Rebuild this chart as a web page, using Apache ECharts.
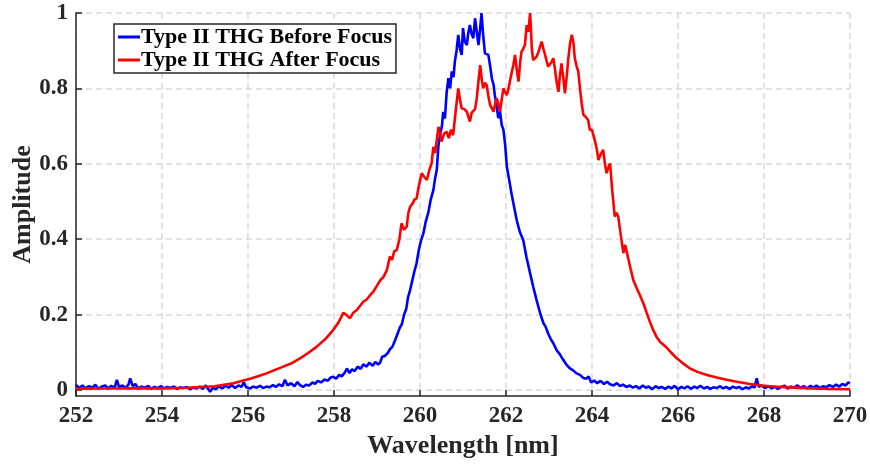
<!DOCTYPE html>
<html>
<head>
<meta charset="utf-8">
<script src="https://cdn.jsdelivr.net/npm/echarts@6/dist/echarts.min.js"></script>
<style>html,body{margin:0;padding:0;background:#fff}#c{width:870px;height:466px}</style>
</head>
<body>
<div id="c"></div>
<script>
const seriesNames = ['Type II THG Before Focus', 'Type II THG After Focus'];
const xTicks = [252, 254, 256, 258, 260, 262, 264, 266, 268, 270];
const yTicks = [0, 0.2, 0.4, 0.6, 0.8, 1];

// [wavelength nm, amplitude]
const beforeFocus = [
[252.00,0.013],[252.08,0.005],[252.15,0.012],[252.22,0.004],[252.30,0.010],[252.38,0.006],[252.45,0.014],[252.52,0.003],[252.60,0.009],[252.68,0.012],[252.75,0.004],[252.82,0.011],[252.90,0.006],[252.95,0.027],[253.00,0.008],[253.08,0.012],[253.15,0.005],[253.22,0.014],[253.26,0.031],[253.32,0.010],[253.38,0.016],[253.45,0.004],[253.52,0.009],[253.60,0.006],[253.68,0.011],[253.75,0.003],[253.82,0.008],[253.90,0.005],[253.98,0.010],[254.05,0.004],[254.12,0.008],[254.20,0.006],[254.28,0.009],[254.35,0.003],[254.42,0.007],[254.50,0.005],[254.58,0.008],[254.65,0.002],[254.72,0.006],[254.80,0.004],[254.88,0.009],[254.95,0.003],[255.02,0.012],[255.08,0.002],[255.12,-0.005],[255.18,0.006],[255.25,0.002],[255.32,0.010],[255.40,0.004],[255.48,0.011],[255.55,0.006],[255.62,0.013],[255.70,0.005],[255.78,0.012],[255.85,0.008],[255.90,0.020],[255.96,0.007],[256.05,0.004],[256.12,0.009],[256.20,0.006],[256.28,0.011],[256.35,0.005],[256.43,0.009],[256.50,0.007],[256.58,0.013],[256.65,0.008],[256.72,0.015],[256.80,0.010],[256.86,0.027],[256.92,0.012],[257.00,0.018],[257.08,0.010],[257.15,0.021],[257.21,0.013],[257.28,0.008],[257.35,0.014],[257.42,0.012],[257.50,0.020],[257.56,0.016],[257.62,0.024],[257.70,0.020],[257.78,0.028],[257.85,0.024],[257.92,0.033],[257.98,0.035],[258.05,0.030],[258.12,0.040],[258.18,0.036],[258.25,0.046],[258.30,0.057],[258.36,0.045],[258.42,0.055],[258.48,0.050],[258.55,0.062],[258.62,0.056],[258.68,0.068],[258.76,0.062],[258.82,0.072],[258.90,0.064],[258.96,0.074],[259.02,0.068],[259.07,0.072],[259.12,0.088],[259.18,0.090],[259.25,0.098],[259.30,0.108],[259.36,0.115],[259.42,0.132],[259.48,0.150],[259.53,0.165],[259.58,0.175],[259.63,0.200],[259.68,0.215],[259.72,0.245],[259.77,0.265],[259.82,0.290],[259.87,0.315],[259.92,0.336],[259.97,0.370],[260.02,0.395],[260.08,0.416],[260.13,0.445],[260.19,0.469],[260.25,0.505],[260.31,0.530],[260.35,0.560],[260.39,0.584],[260.43,0.650],[260.47,0.680],[260.51,0.700],[260.54,0.738],[260.58,0.720],[260.62,0.790],[260.66,0.827],[260.70,0.800],[260.74,0.845],[260.78,0.830],[260.81,0.871],[260.85,0.900],[260.89,0.942],[260.93,0.905],[260.97,0.889],[261.00,0.960],[261.04,0.925],[261.09,0.915],[261.12,0.945],[261.16,0.968],[261.20,0.945],[261.24,0.933],[261.28,0.986],[261.32,0.950],[261.36,0.915],[261.40,0.960],[261.43,1.000],[261.47,0.940],[261.51,0.893],[261.55,0.895],[261.59,0.889],[261.63,0.860],[261.67,0.827],[261.71,0.810],[261.74,0.782],[261.78,0.755],[261.82,0.721],[261.86,0.740],[261.90,0.703],[261.94,0.690],[261.98,0.650],[262.02,0.592],[262.07,0.560],[262.13,0.520],[262.19,0.485],[262.25,0.450],[262.32,0.420],[262.40,0.398],[262.48,0.350],[262.56,0.310],[262.63,0.275],[262.71,0.239],[262.79,0.205],[262.87,0.177],[262.92,0.168],[262.98,0.150],[263.04,0.135],[263.10,0.124],[263.18,0.105],[263.25,0.095],[263.33,0.080],[263.40,0.068],[263.48,0.058],[263.56,0.052],[263.64,0.044],[263.72,0.040],[263.80,0.032],[263.87,0.030],[263.92,0.036],[263.98,0.020],[264.05,0.025],[264.12,0.018],[264.20,0.024],[264.28,0.016],[264.35,0.022],[264.42,0.015],[264.50,0.012],[264.58,0.018],[264.65,0.010],[264.72,0.014],[264.80,0.008],[264.88,0.012],[264.95,0.006],[265.02,0.010],[265.10,0.004],[265.18,0.012],[265.25,0.006],[265.32,0.009],[265.40,0.002],[265.48,0.010],[265.55,0.005],[265.62,0.008],[265.70,0.003],[265.78,0.009],[265.85,0.004],[265.92,0.011],[266.00,0.002],[266.08,0.008],[266.15,0.004],[266.22,0.010],[266.30,0.003],[266.38,0.009],[266.45,0.005],[266.52,0.011],[266.60,0.004],[266.68,0.008],[266.75,0.003],[266.82,0.007],[266.90,0.005],[266.98,0.010],[267.05,0.004],[267.12,0.008],[267.20,0.003],[267.28,0.009],[267.35,0.005],[267.42,0.008],[267.50,0.002],[267.58,0.007],[267.65,0.004],[267.72,0.010],[267.78,0.006],[267.83,0.031],[267.88,0.008],[267.95,0.012],[268.02,0.005],[268.10,0.010],[268.18,0.004],[268.25,0.009],[268.32,0.003],[268.40,0.008],[268.48,0.011],[268.55,0.004],[268.62,0.009],[268.70,0.006],[268.78,0.012],[268.85,0.005],[268.92,0.010],[269.00,0.004],[269.08,0.011],[269.15,0.006],[269.22,0.012],[269.30,0.005],[269.38,0.010],[269.45,0.007],[269.52,0.013],[269.60,0.008],[269.68,0.014],[269.75,0.009],[269.82,0.016],[269.90,0.012],[269.96,0.020],[270.00,0.018]
];

const afterFocus = [
[252.00,0.003],[252.50,0.004],[253.00,0.004],[253.50,0.005],[254.00,0.004],[254.30,0.005],[254.60,0.006],[254.88,0.008],[255.10,0.009],[255.23,0.010],[255.40,0.013],[255.66,0.018],[255.85,0.024],[256.05,0.030],[256.25,0.037],[256.43,0.044],[256.60,0.052],[256.82,0.062],[257.00,0.070],[257.21,0.084],[257.40,0.098],[257.60,0.115],[257.80,0.135],[257.98,0.159],[258.10,0.178],[258.22,0.205],[258.30,0.198],[258.37,0.190],[258.45,0.205],[258.53,0.212],[258.60,0.222],[258.68,0.234],[258.76,0.240],[258.83,0.250],[258.91,0.260],[258.99,0.275],[259.07,0.290],[259.15,0.300],[259.23,0.318],[259.30,0.354],[259.35,0.345],[259.40,0.368],[259.46,0.371],[259.52,0.400],[259.57,0.442],[259.63,0.425],[259.69,0.433],[259.73,0.470],[259.77,0.486],[259.83,0.495],[259.87,0.505],[259.92,0.508],[259.97,0.540],[260.04,0.575],[260.10,0.565],[260.16,0.557],[260.22,0.585],[260.27,0.601],[260.31,0.645],[260.35,0.628],[260.39,0.628],[260.43,0.698],[260.47,0.680],[260.50,0.659],[260.56,0.680],[260.62,0.685],[260.67,0.668],[260.72,0.690],[260.77,0.676],[260.83,0.740],[260.89,0.800],[260.93,0.770],[260.97,0.747],[261.03,0.745],[261.09,0.738],[261.16,0.712],[261.20,0.735],[261.24,0.730],[261.28,0.745],[261.32,0.774],[261.36,0.820],[261.40,0.862],[261.44,0.820],[261.47,0.800],[261.51,0.815],[261.55,0.809],[261.59,0.780],[261.63,0.756],[261.67,0.748],[261.71,0.738],[261.74,0.755],[261.78,0.774],[261.82,0.760],[261.86,0.738],[261.90,0.770],[261.94,0.800],[261.98,0.790],[262.02,0.782],[262.06,0.800],[262.09,0.818],[262.13,0.840],[262.17,0.862],[262.21,0.889],[262.25,0.850],[262.29,0.818],[262.33,0.870],[262.36,0.897],[262.40,0.905],[262.44,0.915],[262.48,0.968],[262.52,0.950],[262.56,1.000],[262.58,0.960],[262.60,0.906],[262.63,0.875],[262.67,0.880],[262.71,0.884],[262.75,0.895],[262.79,0.910],[262.83,0.924],[262.87,0.905],[262.91,0.889],[262.95,0.870],[262.98,0.858],[263.02,0.862],[263.06,0.870],[263.10,0.880],[263.14,0.850],[263.18,0.815],[263.22,0.791],[263.25,0.830],[263.29,0.866],[263.33,0.830],[263.37,0.787],[263.41,0.830],[263.45,0.880],[263.49,0.920],[263.53,0.942],[263.57,0.920],[263.60,0.880],[263.64,0.860],[263.68,0.845],[263.72,0.800],[263.76,0.760],[263.80,0.730],[263.85,0.725],[263.91,0.716],[263.95,0.690],[264.00,0.690],[264.07,0.660],[264.11,0.640],[264.15,0.610],[264.20,0.625],[264.26,0.637],[264.30,0.600],[264.34,0.575],[264.38,0.590],[264.42,0.601],[264.47,0.530],[264.53,0.460],[264.57,0.470],[264.61,0.460],[264.67,0.410],[264.73,0.363],[264.77,0.385],[264.81,0.385],[264.86,0.340],[264.90,0.320],[264.96,0.292],[265.04,0.270],[265.12,0.250],[265.20,0.228],[265.27,0.205],[265.35,0.180],[265.42,0.160],[265.50,0.141],[265.58,0.128],[265.66,0.120],[265.74,0.112],[265.85,0.098],[265.97,0.084],[266.10,0.072],[266.28,0.057],[266.45,0.048],[266.67,0.040],[266.90,0.033],[267.13,0.027],[267.40,0.021],[267.67,0.016],[267.95,0.012],[268.22,0.009],[268.60,0.007],[268.99,0.005],[269.50,0.003],[270.00,0.002]
];

const FONT = '"Liberation Serif", "Times New Roman", serif';
const TXT = '#262626';
const chart = echarts.init(document.getElementById('c'), null, {renderer: 'canvas'});
chart.setOption({
  animation: false,
  backgroundColor: '#ffffff',
  grid: {left: 76, right: 20, top: 13, bottom: 70, containLabel: false, outerBoundsMode: 'none'},
  legend: {
    orient: 'vertical', left: 114, top: 24,
    data: seriesNames,
    backgroundColor: '#ffffff', borderColor: TXT, borderWidth: 1.5,
    padding: [2, 4, 2, 4], itemGap: 1,
    itemWidth: 22, itemHeight: 3, icon: 'rect',
    textStyle: {fontFamily: FONT, fontWeight: 'bold', fontSize: 22, color: '#000', padding: [0,0,0,-4]}
  },
  xAxis: {
    type: 'value', min: 252, max: 270, interval: 2,
    name: 'Wavelength [nm]', nameLocation: 'middle', nameGap: 37,
    nameTextStyle: {fontFamily: FONT, fontWeight: 'bold', fontSize: 26, color: TXT},
    axisLine: {show: true, onZero: false, lineStyle: {color: TXT, width: 1.5}},
    axisTick: {show: true, inside: true, length: 6, lineStyle: {color: TXT, width: 1.5}, customValues: xTicks},
    axisLabel: {fontFamily: FONT, fontWeight: 'bold', fontSize: 23, color: TXT, margin: 9, customValues: xTicks},
    splitLine: {show: true, lineStyle: {color: '#d9d9d9', width: 1.5, type: [6, 4]}}
  },
  yAxis: {
    type: 'value', min: -0.016, max: 1,
    name: 'Amplitude', nameLocation: 'middle', nameGap: 40, nameMoveOverlap: false,
    nameTextStyle: {fontFamily: FONT, fontWeight: 'bold', fontSize: 26, color: TXT},
    axisLine: {show: true, onZero: false, lineStyle: {color: TXT, width: 1.5}},
    axisTick: {show: true, inside: true, length: 6, lineStyle: {color: TXT, width: 1.5}, customValues: yTicks},
    axisLabel: {fontFamily: FONT, fontWeight: 'bold', fontSize: 23, color: TXT, margin: 8, customValues: yTicks,
      formatter: v => String(Math.round(v * 10) / 10)},
    splitLine: {show: true, lineStyle: {color: '#d9d9d9', width: 1.5, type: [6, 4]}}
  },
  series: [
    {name: seriesNames[0], type: 'line', data: beforeFocus, showSymbol: false, symbol: 'none',
     lineStyle: {color: '#0000ff', width: 2.6}, itemStyle: {color: '#0000ff'}, clip: true},
    {name: seriesNames[1], type: 'line', data: afterFocus, showSymbol: false, symbol: 'none',
     lineStyle: {color: '#ff0000', width: 2.6}, itemStyle: {color: '#ff0000'}, clip: true}
  ]
});
</script>
</body>
</html>
